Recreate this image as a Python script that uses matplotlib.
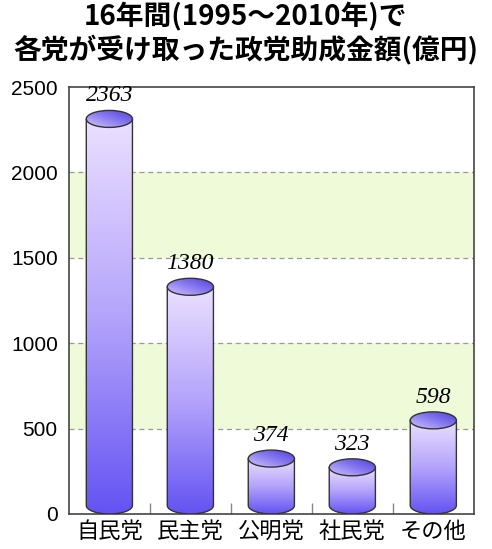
import numpy as np
import matplotlib
matplotlib.use('Agg')
import matplotlib.pyplot as plt
from matplotlib.patches import Ellipse, PathPatch
from matplotlib.path import Path
from matplotlib.colors import LinearSegmentedColormap

plt.rcParams['font.family'] = ['Noto Sans CJK JP', 'DejaVu Sans']

parties = ['自民党', '民主党', '公明党', '社民党', 'その他']
amounts = [2363, 1380, 374, 323, 598]
yticks = [0, 500, 1000, 1500, 2000, 2500]
bands = [(500, 1000), (1500, 2000)]

fig = plt.figure(figsize=(4.92, 5.49), dpi=100)
ax = fig.add_axes([0.140, 0.0638, 0.823, 0.7777])
ax.set_xlim(-0.5, 4.5)
ax.set_ylim(0, 2500)

# green bands + dashed grid
for lo, hi in bands:
    ax.axhspan(lo, hi, color='#effad9', zorder=0, lw=0)
for y in yticks[1:-1]:
    ax.axhline(y, color='#999999', ls=(0, (4, 3)), lw=0.9, zorder=1)

body_cmap = LinearSegmentedColormap.from_list('body', ['#ebe0ff', '#b4a4fb', '#6453f2'])
top_cmap = LinearSegmentedColormap.from_list('top', ['#d2c6fb', '#8a7cf0', '#4f3fe0'])

w = 0.57
# ellipse height in data units (~17 px)
eh = 17 * 2500 / 427.0

for i, v in enumerate(amounts):
    x0, x1 = i - w / 2, i + w / 2
    yt = v - eh / 2
    yb = eh / 2
    # body path: sides + lower half ellipse
    t = np.linspace(np.pi, 2 * np.pi, 40)
    bx = i + (w / 2) * np.cos(t)
    by = yb + (eh / 2) * np.sin(t)
    verts = [(x0, yt)] + list(zip(bx, by)) + [(x1, yt), (x0, yt)]
    codes = [Path.MOVETO] + [Path.LINETO] * (len(verts) - 2) + [Path.CLOSEPOLY]
    body = PathPatch(Path(verts, codes), facecolor='none', edgecolor='#333333', lw=1.0, zorder=4)
    ax.add_patch(body)
    grad = np.linspace(0, 1, 256).reshape(-1, 1)
    im = ax.imshow(grad, cmap=body_cmap, aspect='auto', origin='upper',
                   extent=(x0, x1, 0, yt), zorder=3, interpolation='bicubic')
    im.set_clip_path(body)

    # top ellipse
    top = Ellipse((i, yt), w, eh, facecolor='none', edgecolor='#333333', lw=1.0, zorder=6)
    ax.add_patch(top)
    gx, gy = np.meshgrid(np.linspace(0, 1, 64), np.linspace(0, 1, 64))
    tg = (gx + gy) / 2
    im2 = ax.imshow(tg, cmap=top_cmap, aspect='auto', origin='lower',
                    extent=(x0, x1, yt - eh / 2, yt + eh / 2), zorder=5, interpolation='bicubic')
    im2.set_clip_path(top)

    ax.annotate(str(v), (i, v), xytext=(0, 3), textcoords='offset points',
                ha='center', va='bottom', fontsize=17, style='italic',
                family='Liberation Serif', zorder=7)

ax.set_xticks(range(len(parties)))
ax.set_xticklabels(parties, fontsize=16)
ax.tick_params(axis='x', which='major', length=0, pad=4)
ax.set_xticks([0.5, 1.5, 2.5, 3.5], minor=True)
ax.tick_params(axis='x', which='minor', direction='in', length=8, color='#888888', width=1)

ax.set_yticks(yticks)
ax.set_yticklabels([str(y) for y in yticks], fontsize=15, family='Liberation Sans')
ax.tick_params(axis='y', length=0, pad=8)

for s in ax.spines.values():
    s.set_color('#444444')
    s.set_linewidth(1.2)

fig.text(0.5, 0.969, '16年間(1995〜2010年)で', ha='center', va='center',
         fontsize=20, weight='bold')
fig.text(0.5, 0.909, '各党が受け取った政党助成金額(億円)', ha='center', va='center',
         fontsize=20, weight='bold')

fig.savefig('out.png', dpi=100)
